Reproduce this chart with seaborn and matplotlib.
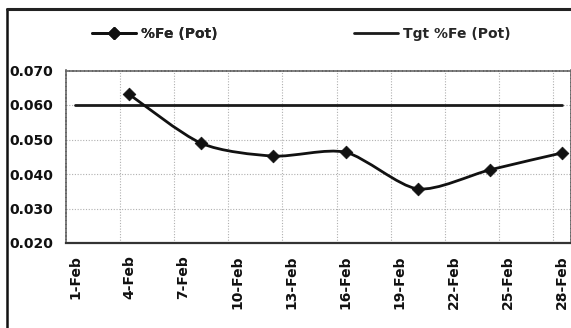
import numpy as np
import pandas as pd
import matplotlib
matplotlib.use("Agg")
import matplotlib.pyplot as plt
from matplotlib.path import Path
from matplotlib.patches import PathPatch
from matplotlib.lines import Line2D
import seaborn as sns

# ---- data ----
days = [4, 8, 12, 16, 20, 24, 28]                      # day of February
fe_pot = [0.0631, 0.0489, 0.0452, 0.0463, 0.0357, 0.0412, 0.0461]
tgt_days = [1, 28]
tgt_fe = [0.060, 0.060]
tick_days = [1, 4, 7, 10, 13, 16, 19, 22, 25, 28]
tick_labels = [f"{d}-Feb" for d in tick_days]
y_ticks = [0.020, 0.030, 0.040, 0.050, 0.060, 0.070]
series_names = ["%Fe (Pot)", "Tgt %Fe (Pot)"]

sns.set_theme(style="white")
plt.rcParams['font.family'] = ['DejaVu Sans']
plt.rcParams['font.weight'] = 'bold'

fig = plt.figure(figsize=(5.71, 3.28), dpi=100)
ax = fig.add_axes([66 / 571, 1 - 243 / 328, 1 - 66 / 571, (243 - 70.5) / 328])

# target line
tgt_df = pd.DataFrame({"day": tgt_days, "fe": tgt_fe})
sns.lineplot(data=tgt_df, x="day", y="fe", ax=ax, color="#1a1a1a", linewidth=2.0, zorder=3)

# smoothed (Excel-like Bezier) line through data
pts = np.column_stack([days, fe_pot]).astype(float)
n = len(pts)
verts = [tuple(pts[0])]
codes = [Path.MOVETO]
k = 1.0 / 7.5
for i in range(n - 1):
    p0 = pts[i - 1] if i > 0 else pts[i]
    p1 = pts[i]
    p2 = pts[i + 1]
    p3 = pts[i + 2] if i + 2 < n else pts[i + 1]
    c1 = p1 + (p2 - p0) * k
    c2 = p2 - (p3 - p1) * k
    verts += [tuple(c1), tuple(c2), tuple(p2)]
    codes += [Path.CURVE4] * 3
ax.add_patch(PathPatch(Path(verts, codes), fill=False, edgecolor="#111111",
                       linewidth=2.0, zorder=4, capstyle="round", joinstyle="round"))

fe_df = pd.DataFrame({"day": days, "fe": fe_pot})
sns.scatterplot(data=fe_df, x="day", y="fe", ax=ax, marker="D", s=42,
                color="#111111", edgecolor="#111111", zorder=5, legend=False)

ax.set_xlim(0.5, 28.5)
ax.set_ylim(0.020, 0.070)
ax.set_xticks(tick_days)
ax.set_xticklabels(tick_labels, rotation=90, fontsize=10, fontweight="bold", color="#111111")
ax.set_yticks(y_ticks)
ax.set_yticklabels([f"{v:.3f}" for v in y_ticks], fontsize=10, fontweight="bold", color="#111111")
ax.tick_params(axis="x", length=0, pad=9)
ax.tick_params(axis="y", length=0, pad=9)
ax.set_xlabel("")
ax.set_ylabel("")

# gridlines (between categories for x)
for g in np.arange(3.5, 28.5, 3):
    ax.axvline(g, color="#b0b0b0", linestyle=(0, (1, 1.5)), linewidth=0.8, zorder=1)
for v in y_ticks[1:-1]:
    ax.axhline(v, color="#b0b0b0", linestyle=(0, (1, 1.5)), linewidth=0.8, zorder=1)

for side, sp in ax.spines.items():
    sp.set_color("#666666")
    sp.set_linewidth(1.2)
    sp.set_linestyle((0, (1.5, 0.8)))
ax.spines["bottom"].set_color("#333333")
ax.spines["bottom"].set_linewidth(1.6)
ax.spines["bottom"].set_linestyle("-")

# legends
h1 = Line2D([], [], color="#111111", linewidth=2.0, marker="D", markersize=6)
h2 = Line2D([], [], color="#1a1a1a", linewidth=2.0)
leg1 = fig.legend([h1], [series_names[0]], loc="center left",
                  bbox_to_anchor=(92 / 571, 1 - 34 / 328), frameon=False,
                  handlelength=3.2, handletextpad=0.3, borderpad=0, borderaxespad=0,
                  prop={"weight": "bold", "size": 10})
fig.add_artist(leg1)
leg2 = fig.legend([h2], [series_names[1]], loc="center left",
                  bbox_to_anchor=(354 / 571, 1 - 34 / 328), frameon=False,
                  handlelength=3.2, handletextpad=0.3, borderpad=0, borderaxespad=0,
                  prop={"weight": "bold", "size": 10})

# outer chart frame (left and top edges visible)
fig.add_artist(Line2D([6.5 / 571, 6.5 / 571], [0, 1 - 8.5 / 328],
                      transform=fig.transFigure, color="#111111", linewidth=1.8))
fig.add_artist(Line2D([6.5 / 571, 1], [1 - 8.5 / 328, 1 - 8.5 / 328],
                      transform=fig.transFigure, color="#222222", linewidth=2.2))

fig.savefig("out.png", dpi=100, facecolor="white")
